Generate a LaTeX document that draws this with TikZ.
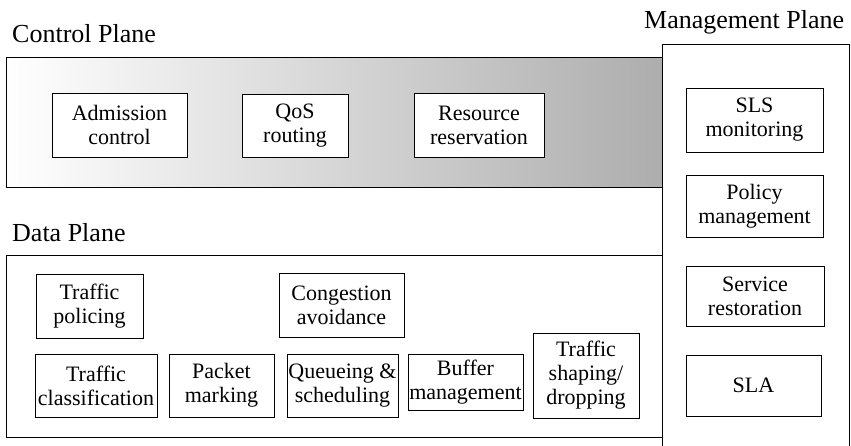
\documentclass[tikz,border=0pt]{standalone}
\usepackage{fontspec}
\setmainfont{Liberation Serif}
\usepackage{tikz}

\tikzset{
  func/.style={draw, fill=white, line width=0.8pt, align=center, inner sep=0pt,
    font=\fontsize{22}{24}\selectfont},
  plane/.style={line width=1pt},
  title/.style={anchor=base west, inner sep=0pt, font=\fontsize{26}{28}\selectfont}
}

\begin{document}
\begin{tikzpicture}[x=1pt, y=-1pt]
    \useasboundingbox (0,0) rectangle (851,446);
    % Control plane
    \shade[left color=white, middle color=black!16, right color=black!32]
        (6,58) rectangle (662,188);
    \draw[plane] (6,58) rectangle (662,188);
    \node[title] (cplabel) at (12,43) {Control Plane};
    % Data plane
    \draw[plane] (6,256) rectangle (662,437);
    \node[title] (dplabel) at (12,242) {Data Plane};
    % Management plane (runs past the bottom)
    \filldraw[plane, fill=white] (662,446) -- (662,45) -- (849,45) -- (849,446);
    \node[title] (mplabel) at (644,29) {Management Plane};
    % Control plane functions
    \node[func, minimum width=135, minimum height=64] (adm) at (119.5,125) {Admission\\control};
    \node[func, minimum width=106, minimum height=63] (qos) at (295,125.5) {QoS\\routing};
    \node[func, minimum width=130, minimum height=64] (res) at (479,125) {Resource\\reservation};
    % Management plane functions
    \node[func, minimum width=137, minimum height=64] (sls) at (754.5,120) {SLS\\monitoring};
    \node[func, minimum width=137, minimum height=62] (pol) at (754.5,206) {Policy\\management};
    \node[func, minimum width=138, minimum height=60] (srv) at (755,296) {Service\\restoration};
    \node[func, minimum width=135, minimum height=61] (sla) at (753.5,385.5) {SLA};
    % Data plane functions
    \node[func, minimum width=107, minimum height=64] (plc) at (89.5,306) {Traffic\\policing};
    \node[func, minimum width=125, minimum height=64] (cng) at (341.5,305) {Congestion\\avoidance};
    \node[func, minimum width=122, minimum height=63] (cls) at (96,385.5) {Traffic\\classification};
    \node[func, minimum width=105, minimum height=63] (mrk) at (221.5,385.5) {Packet\\marking};
    \node[func, minimum width=111, minimum height=63] (que) at (342.5,385.5) {Queueing \&\\scheduling};
    \node[func, minimum width=115, minimum height=56] (buf) at (465.5,382) {Buffer\\management};
    \node[func, minimum width=106, minimum height=85] (shp) at (586,375.5) {Traffic\\shaping/\\dropping};
\end{tikzpicture}
\end{document}
